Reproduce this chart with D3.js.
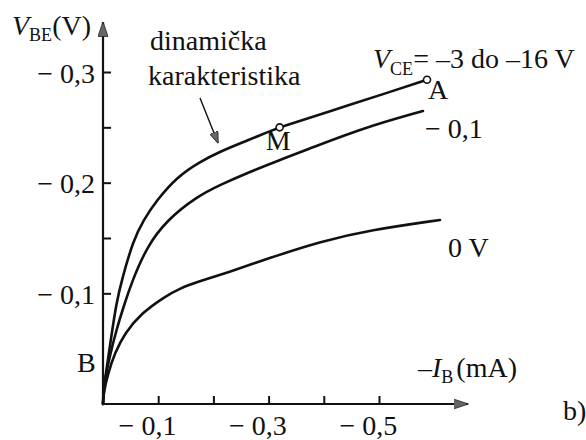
<!DOCTYPE html>
<html>
<head>
<meta charset="utf-8">
<script src="https://cdn.jsdelivr.net/npm/d3@7/dist/d3.min.js"></script>
<style>
  html, body { margin: 0; padding: 0; background: #fff; }
  svg { display: block; }
</style>
</head>
<body>
<svg id="chart" width="586" height="440"></svg>
<script>
// Input characteristics of the transistor: |V_BE| versus -I_B
// x values: -I_B in mA, y values: -V_BE in V (magnitudes)
const xTicks = [0.1, 0.2, 0.3, 0.4, 0.5];
const xLabeled = [0.1, 0.3, 0.5];
const yTicks = [0.1, 0.15, 0.2, 0.25, 0.3];
const yLabeled = [0.1, 0.2, 0.3];

// V_CE = -3 ... -16 V (dynamic characteristic)
const curveDynamic = [[0, 0], [0.0005, 0.0099], [0.006, 0.0307], [0.015, 0.0608], [0.0241, 0.091],
  [0.0339, 0.112], [0.0549, 0.148], [0.073, 0.166], [0.0973, 0.184], [0.1335, 0.205],
  [0.1757, 0.219], [0.212, 0.228], [0.2536, 0.2365], [0.3025, 0.2465], [0.32, 0.25],
  [0.4112, 0.2645], [0.52, 0.282], [0.587, 0.293]];
// V_CE = -0.1 V
const curveMinus01 = [[0, 0], [0.003, 0.0217], [0.0121, 0.0427], [0.0241, 0.0669], [0.0393, 0.091],
  [0.052, 0.11], [0.0792, 0.142], [0.1154, 0.166], [0.1697, 0.1873],
  [0.212, 0.198], [0.2663, 0.2099], [0.3207, 0.2205], [0.3623, 0.2285], [0.471, 0.2495],
  [0.5797, 0.2648]];
// V_CE = 0 V
const curveZero = [[0, 0], [0.0009, 0.0099], [0.0091, 0.0277], [0.0212, 0.0458], [0.0393, 0.0639],
  [0.0694, 0.082], [0.1118, 0.097], [0.1395, 0.1045], [0.1721, 0.1105], [0.2241, 0.1185],
  [0.3085, 0.1331], [0.3931, 0.1467], [0.4837, 0.1572], [0.6105, 0.1663]];

const pointM = [0.32, 0.25];
const pointA = [0.587, 0.293];

const FONT = '"Liberation Serif", "Times New Roman", serif';
const svg = d3.select("#chart");
const x = d3.scaleLinear().domain([0, 0.5]).range([103, 379]);
const y = d3.scaleLinear().domain([0, 0.3]).range([404, 72]);

const fmt = d => "\u2212 " + d3.format(".1f")(d).replace(".", ",");

// arrowhead markers
const defs = svg.append("defs");
function marker(id, w, h) {
  defs.append("marker")
    .attr("id", id)
    .attr("viewBox", `0 0 ${w} ${h}`)
    .attr("refX", w - 0.5).attr("refY", h / 2)
    .attr("markerWidth", w).attr("markerHeight", h)
    .attr("markerUnits", "userSpaceOnUse")
    .attr("orient", "auto")
    .append("path")
    .attr("d", `M0,0 L${w},${h / 2} L0,${h} Z`)
    .attr("fill", "#666").attr("stroke", "#222").attr("stroke-width", 0.8);
}
marker("axisArrow", 15, 10);
marker("pointer", 12, 9);

// axis lines
svg.append("line")
  .attr("x1", x(0)).attr("y1", y(0)).attr("x2", 468).attr("y2", y(0))
  .attr("stroke", "#111").attr("stroke-width", 2.2).attr("marker-end", "url(#axisArrow)");
svg.append("line")
  .attr("x1", x(0)).attr("y1", y(0)).attr("x2", x(0)).attr("y2", 22)
  .attr("stroke", "#111").attr("stroke-width", 2.2).attr("marker-end", "url(#axisArrow)");

// x axis ticks and labels
const xAxis = d3.axisBottom(x)
  .tickValues(xTicks)
  .tickSizeInner(-8).tickSizeOuter(0).tickPadding(11)
  .tickFormat(d => xLabeled.includes(d) ? fmt(d) : "");
const gx = svg.append("g").attr("transform", `translate(0,${y(0)})`).call(xAxis);
gx.select(".domain").remove();
gx.selectAll(".tick line").attr("stroke", "#111").attr("stroke-width", 2);
gx.selectAll(".tick text")
  .style("font-family", FONT).style("font-size", "28px").attr("fill", "#111")
  .attr("dx", "-0.4em");

// y axis ticks and labels
const yAxis = d3.axisLeft(y)
  .tickValues(yTicks)
  .tickSizeInner(-8).tickSizeOuter(0).tickPadding(8)
  .tickFormat(d => yLabeled.includes(d) ? fmt(d) : "");
const gy = svg.append("g").attr("transform", `translate(${x(0)},0)`).call(yAxis);
gy.select(".domain").remove();
gy.selectAll(".tick line").attr("stroke", "#111").attr("stroke-width", 2);
gy.selectAll(".tick text")
  .style("font-family", FONT).style("font-size", "28px").attr("fill", "#111")
  .attr("dy", "0.36em");

// curves
const line = d3.line()
  .x(d => x(d[0])).y(d => y(d[1]))
  .curve(d3.curveBasis);
[curveDynamic, curveMinus01, curveZero].forEach(c => {
  svg.append("path").attr("d", line(c))
    .attr("fill", "none").attr("stroke", "#111").attr("stroke-width", 2.6)
    .attr("stroke-linecap", "round").attr("stroke-linejoin", "round");
});

// working points M and A
[pointM, pointA].forEach(p => {
  svg.append("circle").attr("cx", x(p[0])).attr("cy", y(p[1])).attr("r", 3.5)
    .attr("fill", "#fff").attr("stroke", "#111").attr("stroke-width", 1.6);
});

const T = (px, py, size) => svg.append("text")
  .attr("x", px).attr("y", py)
  .style("font-family", FONT).style("font-size", (size || 28) + "px")
  .attr("fill", "#111");
const sub = (t, s, dy) => t.append("tspan").style("font-size", "18px").attr("dy", dy).text(s);

T(x(pointM[0]) - 1.5, y(pointM[1]) + 23).attr("text-anchor", "middle").text("M");
T(x(pointA[0]) + 1, y(pointA[1]) + 19).text("A");

// axis titles
const yt = T(12, 35);
yt.append("tspan").style("font-style", "italic").text("V");
sub(yt, "BE", 6);
yt.append("tspan").attr("dy", -6).text("(V)");

const xt = T(418, 377);
xt.append("tspan").text("\u2013");
xt.append("tspan").style("font-style", "italic").text("I");
sub(xt, "B", 6);
xt.append("tspan").attr("dy", -6).attr("dx", 3).text("(mA)");

// curve labels
const vce = T(373, 68);
vce.append("tspan").style("font-style", "italic").text("V");
sub(vce, "CE", 7);
vce.append("tspan").attr("dy", -7).text("= \u20133 do \u201316 V");

const last01 = curveMinus01[curveMinus01.length - 1];
T(x(last01[0]) + 2, y(last01[1]) + 27).text("\u2212 0,1");
const last0 = curveZero[curveZero.length - 1];
T(x(last0[0]) + 8, y(last0[1]) + 37).text("0 V");

T(77, 372).text("B");
T(563, 420).text("b)");

// dynamic characteristic annotation
T(150, 50).text("dinamička");
T(148, 85).text("karakteristika");
svg.append("line")
  .attr("x1", 200).attr("y1", 98).attr("x2", 218).attr("y2", 143)
  .attr("stroke", "#111").attr("stroke-width", 1.4).attr("marker-end", "url(#pointer)");
</script>
</body>
</html>
